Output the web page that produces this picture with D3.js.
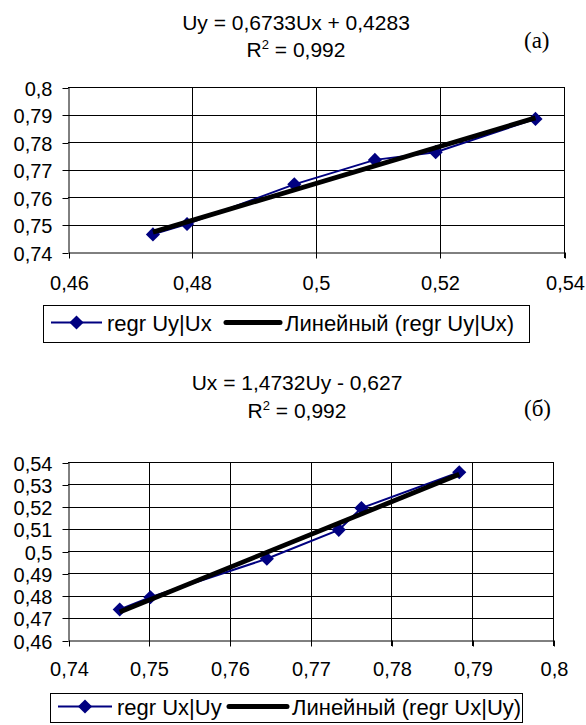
<!DOCTYPE html>
<html><head><meta charset="utf-8">
<script src="https://cdn.jsdelivr.net/npm/d3@7"></script>
<style>
body{margin:0;background:#fff}
svg{display:block}
text{font-family:"Liberation Sans",Arial,sans-serif;fill:#000}
</style>
</head><body>
<svg id="c" width="586" height="725"></svg>
<script>
// ---- data ----
const Ux = [0.4737, 0.4792, 0.4965, 0.5095, 0.5193, 0.5354];
const Uy = [0.7464, 0.7502, 0.7646, 0.7735, 0.7763, 0.7884];
const ticksUx = [0.46, 0.48, 0.50, 0.52, 0.54];
const labelsUx = ["0,46", "0,48", "0,5", "0,52", "0,54"];
const ticksUy = [0.74, 0.75, 0.76, 0.77, 0.78, 0.79, 0.80];
const labelsUy = ["0,74", "0,75", "0,76", "0,77", "0,78", "0,79", "0,8"];
const ticksUxB = [0.46, 0.47, 0.48, 0.49, 0.50, 0.51, 0.52, 0.53, 0.54];
const labelsUxB = ["0,46", "0,47", "0,48", "0,49", "0,5", "0,51", "0,52", "0,53", "0,54"];
const fitA = [0.6733, 0.4283];   // Uy = a*Ux + b
const fitB = [1.4732, -0.627];   // Ux = a*Uy + b
const titlesA = ["Uy = 0,6733Ux + 0,4283", "0,992"];
const titlesB = ["Ux = 1,4732Uy - 0,627", "0,992"];
const legendA = ["regr Uy|Ux", "Линейный (regr Uy|Ux)"];
const legendB = ["regr Ux|Uy", "Линейный (regr Ux|Uy)"];

const svg = d3.select("#c");
const NAVY = "#000080";

function chart(o) {
  const g = svg.append("g");
  const x = d3.scaleLinear().domain(o.xDom).range([o.left, o.right]);
  const y = d3.scaleLinear().domain(o.yDom).range([o.bottom, o.top]);
  const cx = v => Math.round(x(v)) + 0.5;
  const cy = v => Math.round(y(v)) + 0.5;

  // titles
  g.append("text").attr("x", o.tcx).attr("y", o.t1).attr("text-anchor", "middle")
    .style("font-size", "21px").text(o.titles[0]);
  const t2 = g.append("text").attr("x", o.tcx).attr("y", o.t2).attr("text-anchor", "middle")
    .style("font-size", "21px");
  t2.append("tspan").text("R");
  t2.append("tspan").attr("dy", -8).style("font-size", "13px").text("2");
  t2.append("tspan").attr("dy", 8).text(" = " + o.titles[1]);
  g.append("text").attr("x", 524).attr("y", o.tag).style("font-family", "'Liberation Serif','Times New Roman',serif")
    .style("font-size", "23px").text(o.tagText);

  // grid
  g.append("g").selectAll("line").data(o.yTicks.slice(1)).join("line")
    .attr("x1", o.left).attr("x2", o.right).attr("y1", cy).attr("y2", cy)
    .attr("stroke", "#000").attr("stroke-width", 1);
  g.append("g").selectAll("line").data(o.xTicks.slice(1)).join("line")
    .attr("y1", o.top).attr("y2", o.bottom + 6).attr("x1", cx).attr("x2", cx)
    .attr("stroke", "#000").attr("stroke-width", 1);

  // axes
  const ax = g.append("g").attr("transform", `translate(0,${Math.round(o.bottom) + 0.5})`)
    .call(d3.axisBottom(x).tickValues(o.xTicks).tickFormat((d, i) => o.xLabels[i]).tickSize(6).tickSizeOuter(0));
  ax.selectAll("text").attr("y", o.xlab).attr("dy", 0).style("font-size", "20px").attr("font-family", null);
  const ay = g.append("g").attr("transform", `translate(${Math.round(o.left) + 0.5},0)`)
    .call(d3.axisLeft(y).tickValues(o.yTicks).tickFormat((d, i) => o.yLabels[i]).tickSize(6).tickSizeOuter(0));
  ay.selectAll("text").attr("x", -16).attr("dy", "0.35em").style("font-size", "20px").attr("font-family", null);
  g.selectAll(".domain").attr("stroke", "#000");
  g.selectAll(".tick line").attr("stroke", "#000");
  g.selectAll(".tick").each(function () {
    const t = d3.select(this).attr("transform");
    const m = /translate\(([-\d.]+),([-\d.]+)\)/.exec(t);
    if (m) {
      const a = Math.round(+m[1]) + (+m[1] === 0 ? 0 : 0.5), b = Math.round(+m[2]) + (+m[2] === 0 ? 0 : 0.5);
      d3.select(this).attr("transform", `translate(${a},${b})`);
    }
  });

  // series
  const pts = o.xs.map((v, i) => [v, o.ys[i]]);
  g.append("path").datum(pts).attr("fill", "none").attr("stroke", NAVY).attr("stroke-width", 2)
    .attr("d", d3.line().x(d => x(d[0])).y(d => y(d[1])));
  const sym = d3.symbol(d3.symbolSquare, 100);
  g.append("g").selectAll("path").data(pts).join("path")
    .attr("d", sym).attr("fill", NAVY)
    .attr("transform", d => `translate(${x(d[0])},${y(d[1])}) rotate(45)`);

  // trend line
  const x0 = d3.min(o.xs), x1 = d3.max(o.xs);
  const tr = [[x0, o.fit[0] * x0 + o.fit[1]], [x1, o.fit[0] * x1 + o.fit[1]]];
  g.append("path").datum(tr).attr("fill", "none").attr("stroke", "#000").attr("stroke-width", 4.8)
    .attr("d", d3.line().x(d => x(d[0])).y(d => y(d[1])));

  // legend
  const L = o.leg;
  g.append("rect").attr("x", L.x0 + 0.5).attr("y", L.y0 + 0.5).attr("width", L.x1 - L.x0).attr("height", L.y1 - L.y0)
    .attr("fill", "#fff").attr("stroke", "#000").attr("stroke-width", 1);
  const ly = (L.y0 + L.y1) / 2 - 1;
  g.append("line").attr("x1", L.s1[0]).attr("x2", L.s1[1]).attr("y1", ly).attr("y2", ly)
    .attr("stroke", NAVY).attr("stroke-width", 2);
  g.append("path").attr("d", d3.symbol(d3.symbolSquare, 100)).attr("fill", NAVY)
    .attr("transform", `translate(${(L.s1[0] + L.s1[1]) / 2},${ly}) rotate(45)`);
  g.append("text").attr("x", L.s1[1] + 5).attr("y", ly + 8).style("font-size", "22px").text(o.legend[0]);
  g.append("line").attr("x1", L.s2[0]).attr("x2", L.s2[1]).attr("y1", ly).attr("y2", ly)
    .attr("stroke", "#000").attr("stroke-width", 5).attr("stroke-linecap", "round");
  g.append("text").attr("x", L.s2[1] + 5).attr("y", ly + 8).style("font-size", "22px").text(o.legend[1]);
}

chart({
  left: 68, right: 564, top: 87, bottom: 252,
  xDom: [0.46, 0.54], yDom: [0.74, 0.80],
  xTicks: ticksUx, xLabels: labelsUx, yTicks: ticksUy, yLabels: labelsUy,
  xs: Ux, ys: Uy, fit: fitA, titles: titlesA,
  tcx: 296, t1: 30, t2: 57, tag: 48, tagText: "(a)", xlab: 37,
  leg: {x0: 43, x1: 529, y0: 305, y1: 342, s1: [51, 102], s2: [226, 280]},
  legend: legendA
});
chart({
  left: 68, right: 553, top: 462, bottom: 640,
  xDom: [0.74, 0.80], yDom: [0.46, 0.54],
  xTicks: ticksUy, xLabels: labelsUy, yTicks: ticksUxB, yLabels: labelsUxB,
  xs: Uy, ys: Ux, fit: fitB, titles: titlesB,
  tcx: 297, t1: 390, t2: 418, tag: 416, tagText: "(б)", xlab: 35,
  leg: {x0: 50, x1: 522, y0: 693, y1: 722, s1: [58, 112], s2: [229, 287]},
  legend: legendB
});
</script>
</body></html>
